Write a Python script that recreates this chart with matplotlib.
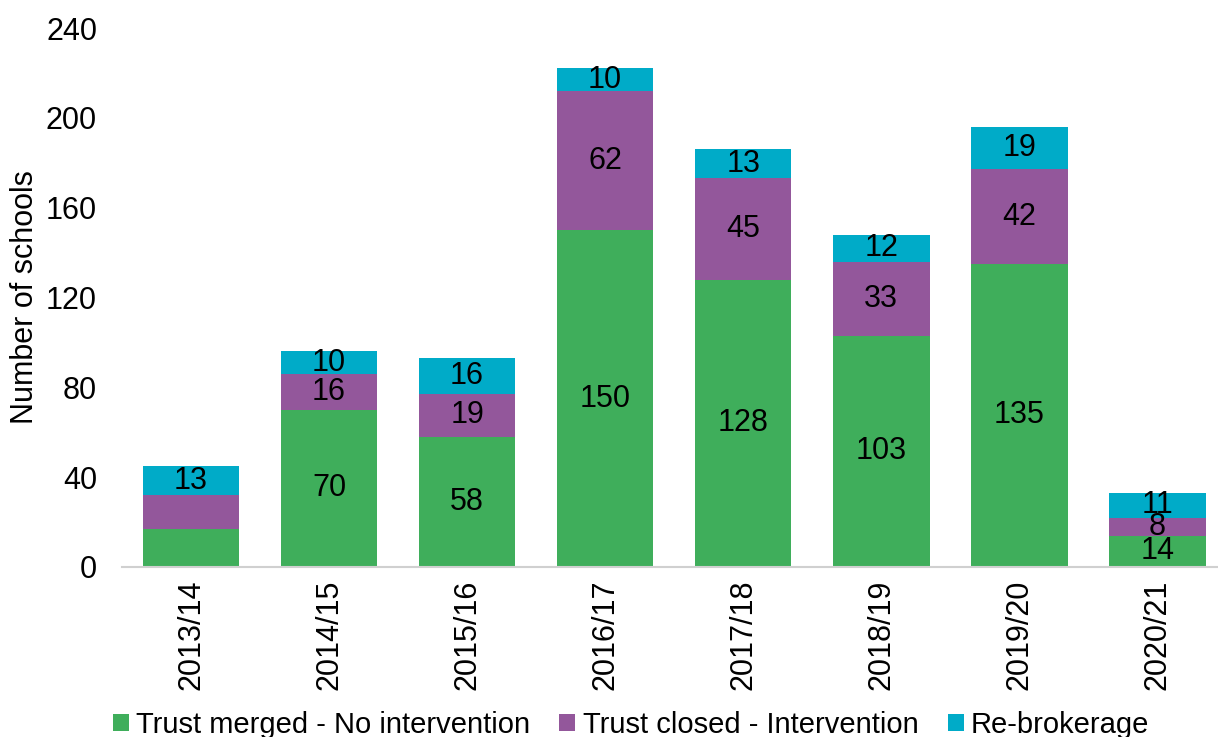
import numpy as np
import matplotlib.pyplot as plt

plt.rcParams['font.family'] = ['Liberation Sans', 'DejaVu Sans']

years = ['2013/14', '2014/15', '2015/16', '2016/17', '2017/18', '2018/19', '2019/20', '2020/21']
merged = [17, 70, 58, 150, 128, 103, 135, 14]
closed = [15, 16, 19, 62, 45, 33, 42, 8]
rebrokerage = [13, 10, 16, 10, 13, 12, 19, 11]
# which segments carry a value label
show_merged = [False, True, True, True, True, True, True, True]
show_closed = [False, True, True, True, True, True, True, True]
show_rebro = [True] * 8

green = '#3fae5b'
purple = '#93579b'
blue = '#00abc8'

fig = plt.figure(figsize=(12.18, 7.37), dpi=100)
ax = fig.add_axes([122/1218, 170/737, 1 - 122/1218, 539/737])

x = np.arange(len(years))
w = 0.70
merged = np.array(merged)
closed = np.array(closed)
rebrokerage = np.array(rebrokerage)

b1 = ax.bar(x, merged, w, color=green, label='Trust merged - No intervention')
b2 = ax.bar(x, closed, w, bottom=merged, color=purple, label='Trust closed - Intervention')
b3 = ax.bar(x, rebrokerage, w, bottom=merged + closed, color=blue, label='Re-brokerage')

fs = 22
for i in x:
    if show_merged[i]:
        ax.text(i, merged[i] / 2, str(merged[i]), ha='center', va='center', fontsize=fs)
    if show_closed[i]:
        ax.text(i, merged[i] + closed[i] / 2, str(closed[i]), ha='center', va='center', fontsize=fs)
    if show_rebro[i]:
        ax.text(i, merged[i] + closed[i] + rebrokerage[i] / 2, str(rebrokerage[i]),
                ha='center', va='center', fontsize=fs)

ax.set_ylim(0, 240)
ax.set_yticks(np.arange(0, 241, 40))
ax.set_xlim(-0.5, 7.44)
ax.set_xticks(x)
ax.set_xticklabels(years, rotation=90, fontsize=fs)
ax.tick_params(axis='y', labelsize=fs, length=0, pad=18)
ax.tick_params(axis='x', length=0, pad=9)
ax.set_ylabel('Number of schools', fontsize=fs, labelpad=4)

for s in ['top', 'right', 'left']:
    ax.spines[s].set_visible(False)
ax.spines['bottom'].set_color('#d0d0d0')
ax.spines['bottom'].set_linewidth(1.5)

fig.legend(handles=[b1, b2, b3], loc='lower center', bbox_to_anchor=(0.518, -0.038), ncol=3,
           frameon=False, fontsize=21, handlelength=0.55, handleheight=0.55,
           handletextpad=0.25, columnspacing=1.0)

fig.savefig('out.png', dpi=100)
